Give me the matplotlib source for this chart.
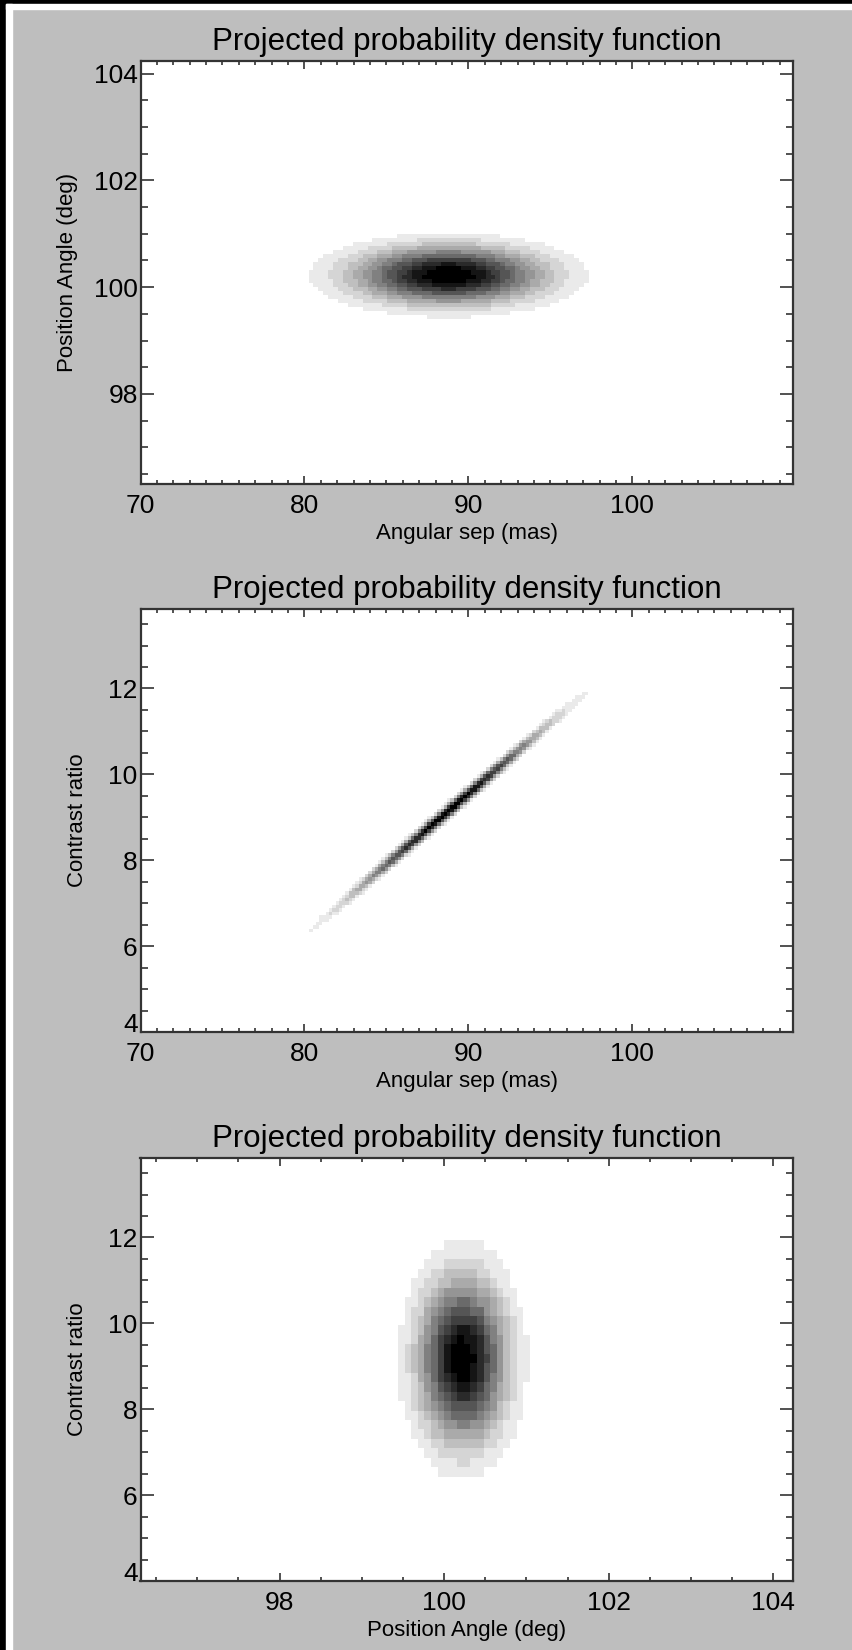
import numpy as np
import matplotlib
matplotlib.use('Agg')
import matplotlib.pyplot as plt
from matplotlib.colors import ListedColormap, BoundaryNorm
from matplotlib.patches import Rectangle
from matplotlib.ticker import MultipleLocator

plt.rcParams['font.family'] = ['Liberation Sans', 'DejaVu Sans']

# Companion fit: means, widths and correlations of the posterior
sep_mean, sep_sigma = 88.8, 3.75     # angular separation (mas)
pa_mean, pa_sigma = 100.225, 0.347   # position angle (deg)
cr_mean, cr_sigma = 9.15, 1.24       # contrast ratio
rho_sep_cr = 0.996
rho_sep_pa = 0.0
rho_pa_cr = 0.0

# Sampling grids of each projected PDF
sep_grid_a = np.arange(78.0, 100.0, 0.3)
pa_grid_a = np.arange(99.0, 101.45, 0.075)
sep_grid_b = np.arange(78.0, 100.0, 0.2)
cr_grid_b = np.arange(5.0, 13.5, 0.08)
pa_grid_c = np.arange(99.0, 101.45, 0.08)
cr_grid_c = np.arange(5.0, 13.5, 0.22)

# Axis ranges
sep_range = (70.0, 109.8)
pa_range = (96.31, 104.24)
cr_range = (4.0, 13.85)

n_levels = 12
bg = '#bebebe'


def gauss2d(xg, yg, mx, sx, my, sy, rho):
    X, Y = np.meshgrid(xg, yg)
    u = (X - mx) / sx
    v = (Y - my) / sy
    z = (u ** 2 - 2 * rho * u * v + v ** 2) / (1 - rho ** 2)
    p = np.exp(-0.5 * z)
    return p / p.max()


def edges(g):
    d = g[1] - g[0]
    return np.append(g - d / 2, g[-1] + d / 2)


# grey levels: white below the first step, black at the peak
shades = [str(1 - k / n_levels) for k in range(0, n_levels + 1)]
cmap = ListedColormap(shades)
bounds = np.append(np.arange(0, n_levels + 1) / (n_levels + 1), 1.01)
norm = BoundaryNorm(bounds, cmap.N)

fig = plt.figure(figsize=(8.53, 16.5), dpi=100, facecolor=bg)

# window frame along top and left edges
fig.patches.append(Rectangle((0, 1 - 4 / 1650), 1, 4 / 1650, transform=fig.transFigure,
                             color='black', zorder=0))
fig.patches.append(Rectangle((0, 0), 6 / 853, 1, transform=fig.transFigure,
                             color='black', zorder=0))
fig.patches.append(Rectangle((6 / 853, 1 - 9 / 1650), 1, 5 / 1650, transform=fig.transFigure,
                             color='white', zorder=0))
fig.patches.append(Rectangle((6 / 853, 0), 6 / 853, 1 - 4 / 1650, transform=fig.transFigure,
                             color='white', zorder=0))

left, width, height = 140.5 / 853, 652.5 / 853, 423 / 1650
tops = [61, 609, 1158]

panels = [
    (sep_grid_a, pa_grid_a, (sep_mean, sep_sigma, pa_mean, pa_sigma, rho_sep_pa),
     sep_range, pa_range, 'Angular sep (mas)', 'Position Angle (deg)', 10, 1, 2, 0.5, -0.112),
    (sep_grid_b, cr_grid_b, (sep_mean, sep_sigma, cr_mean, cr_sigma, rho_sep_cr),
     sep_range, cr_range, 'Angular sep (mas)', 'Contrast ratio', 10, 1, 2, 0.5, -0.096),
    (pa_grid_c, cr_grid_c, (pa_mean, pa_sigma, cr_mean, cr_sigma, rho_pa_cr),
     pa_range, cr_range, 'Position Angle (deg)', 'Contrast ratio', 2, 0.5, 2, 0.5, -0.096),
]

axes = []
for top, (xg, yg, pars, xr, yr, xl, yl, xmaj, xmin, ymaj, ymin, ylx) in zip(tops, panels):
    ax = fig.add_axes([left, 1 - (top + 423) / 1650, width, height])
    ax.set_facecolor('white')
    p = gauss2d(xg, yg, *pars)
    ax.pcolormesh(edges(xg), edges(yg), p, cmap=cmap, norm=norm, shading='flat')
    ax.set_xlim(*xr)
    ax.set_ylim(*yr)
    ax.xaxis.set_major_locator(MultipleLocator(xmaj))
    ax.xaxis.set_minor_locator(MultipleLocator(xmin))
    ax.yaxis.set_major_locator(MultipleLocator(ymaj))
    ax.yaxis.set_minor_locator(MultipleLocator(ymin))
    ax.tick_params(which='both', direction='in', top=True, right=True,
                   labelsize=19, color='#333333', width=1.2)
    ax.tick_params(axis='x', which='major', length=6, pad=7)
    ax.tick_params(axis='x', which='minor', length=3)
    ax.tick_params(axis='y', which='major', length=9.5, pad=2)
    ax.tick_params(axis='y', which='minor', length=4.7)
    for s in ax.spines.values():
        s.set_linewidth(1.6)
        s.set_color('#333333')
    ax.set_xlabel(xl, fontsize=16)
    ax.xaxis.set_label_coords(0.5, -0.116, transform=ax.transAxes)
    ax.xaxis.label.set_va('center')
    ax.set_ylabel(yl, fontsize=16)
    ax.yaxis.set_label_coords(ylx, 0.5, transform=ax.transAxes)
    ax.yaxis.label.set_va('center')
    ax.set_title('Projected probability density function', fontsize=22.5, pad=8)
    axes.append(ax)

# a y label sitting on the bottom edge is raised so it clears the x labels
fig.canvas.draw()
for ax in axes:
    y0 = ax.get_ylim()[0]
    for tick in ax.yaxis.get_major_ticks():
        if abs(tick.get_loc() - y0) < 1e-6:
            tick.label1.set_va('baseline')

fig.savefig('out.png', dpi=100, facecolor=bg)
